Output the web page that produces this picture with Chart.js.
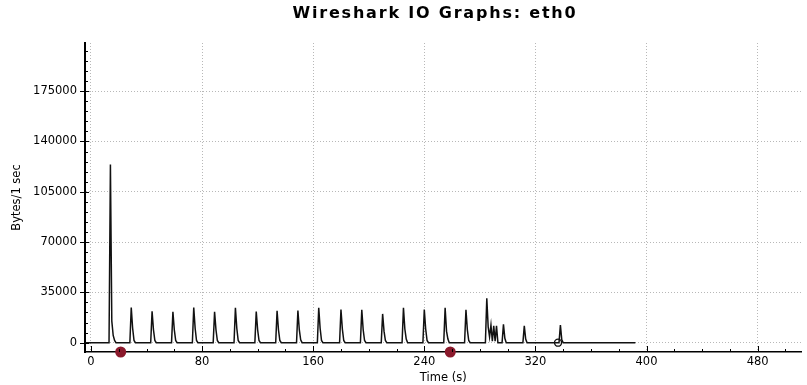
<!DOCTYPE html>
<html><head><meta charset="utf-8">
<script src="https://cdn.jsdelivr.net/npm/chart.js@4"></script>
<style>html,body{margin:0;padding:0;background:#fff}#wrap{width:807px;height:385px}</style>
</head><body><div id="wrap"><canvas id="c" width="807" height="385"></canvas></div>
<script>
const chartTitle = 'Wireshark IO Graphs: eth0';
const xAxisTitle = 'Time (s)';
const yAxisTitle = 'Bytes/1 sec';

// Time (s) and Bytes/1 sec
const timeSec = [-4, 13,14,15,16,17,18, 28,29,30,31,32, 43,44,45,46,47, 58,59,60,61,62, 73,74,75,76,77, 88,89,90,91,92,
  103,104,105,106,107, 118,119,120,121,122, 133,134,135,136,137, 148,149,150,151,152, 163,164,165,166,167,
  179,180,181,182,183, 194,195,196,197,198, 209,210,211,212,213, 224,225,226,227,228, 239,240,241,242,243,
  254,255,256,257,258, 269,270,271,272,273, 284,285,286,287,288,289,290,291,292,293, 296,297,298,299,
  311,312,313,314, 337,338,339,340, 392];
const bytesPerSec = [0, 0,124000,15000,5000,1500,0, 0,24400,10000,1500,0, 0,21900,9000,1500,0, 0,21400,9000,1500,0, 0,24400,10000,1500,0, 0,21400,9000,1500,0,
  0,24200,10000,1500,0, 0,21700,9000,1500,0, 0,22100,9000,1500,0, 0,22400,9000,2000,0, 0,24200,10000,1500,0,
  0,23100,9500,1500,0, 0,22800,9000,1500,0, 0,20000,8000,1500,0, 0,24200,9500,2500,0, 0,23100,9500,1500,0,
  0,24200,8000,2500,0, 0,22800,9000,1500,0, 0,30800,11000,4000,12200,1000,11700,1000,11700,0, 0,12700,3000,0,
  0,11700,2500,0, 0,12200,2000,0, 0];

const markerTimes = [21.4, 258.7];      // red markers on the time axis
const openMarkerTimes = [336.3];        // open circle marker
const openMarkerValues = [0];

const xTickValues = [0, 80, 160, 240, 320, 400, 480];
const yTickValues = [0, 35000, 70000, 105000, 140000, 175000];
const xRange = [-4.3, 511.6];
const yRange = [-6500, 208500];
const xMinorStep = 20;
const yMinorStep = 7000;

const FONT = 'DejaVu Sans';

const decor = {
  id: 'decor',
  afterDraw(chart) {
    const {ctx, chartArea: {left, bottom}, scales: {x, y}} = chart;
    ctx.save();
    ctx.strokeStyle = '#000';
    ctx.lineWidth = 1;
    const seg = (x1, y1, x2, y2) => { ctx.beginPath(); ctx.moveTo(x1, y1); ctx.lineTo(x2, y2); ctx.stroke(); };
    for (let v = 0; v <= y.max; v += yMinorStep) {
      const py = Math.round(y.getPixelForValue(v)) + 0.5;
      if (yTickValues.includes(v)) seg(left - 5, py, left + 4, py);
      else seg(left, py, left + 3, py);
    }
    for (let v = 0; v <= x.max; v += xMinorStep) {
      const px = Math.round(x.getPixelForValue(v)) + 0.5;
      if (xTickValues.includes(v)) seg(px, bottom - 6, px, bottom);
      else seg(px, bottom - 3, px, bottom);
    }
    ctx.fillStyle = '#000';
    ctx.font = 'bold 16px "' + FONT + '"';
    ctx.letterSpacing = '1.8px';
    ctx.textAlign = 'center';
    ctx.textBaseline = 'alphabetic';
    ctx.fillText(chartTitle, 435, 18);
    ctx.restore();
  }
};

const plainLabel = v => String(v);

new Chart(document.getElementById('c'), {
  type: 'line',
  data: {
    datasets: [
      {
        data: timeSec.map((t, i) => ({x: t, y: bytesPerSec[i]})),
        borderColor: '#111', borderWidth: 1.5, pointRadius: 0, tension: 0, fill: false
      },
      {
        data: openMarkerTimes.map((t, i) => ({x: t, y: openMarkerValues[i]})),
        showLine: false, pointRadius: 3.5, pointBorderWidth: 1.4,
        pointBorderColor: '#111', pointBackgroundColor: '#fff'
      },
      {
        data: markerTimes.map(t => ({x: t, y: yRange[0]})),
        showLine: false, pointRadius: 5.5, pointBorderWidth: 0,
        pointBackgroundColor: '#8b1a2c', pointBorderColor: '#8b1a2c', clip: false
      }
    ]
  },
  options: {
    responsive: false,
    animation: false,
    devicePixelRatio: 1,
    layout: {padding: {top: 43, left: 0, right: 0, bottom: 0}},
    plugins: {legend: {display: false}, tooltip: {enabled: false}, title: {display: false}},
    scales: {
      x: {
        type: 'linear', min: xRange[0], max: xRange[1],
        afterBuildTicks: s => { s.ticks = xTickValues.map(v => ({value: v})); },
        afterFit: s => { s.height = 33; },
        ticks: {font: {family: FONT, size: 11.5}, color: '#000', padding: 3, maxRotation: 0, autoSkip: false, callback: plainLabel},
        grid: {color: 'rgba(0,0,0,0.28)', lineWidth: 1, drawTicks: false},
        border: {display: true, color: '#000', width: 1.5, dash: [1, 2]},
        title: {display: true, text: xAxisTitle, font: {family: FONT, size: 11.5}, color: '#000', padding: {top: 1, bottom: 0}}
      },
      y: {
        type: 'linear', min: yRange[0], max: yRange[1],
        afterBuildTicks: s => { s.ticks = yTickValues.map(v => ({value: v})); },
        afterFit: s => { s.width = 85; },
        ticks: {font: {family: FONT, size: 11.5}, color: '#000', padding: 8, callback: plainLabel},
        grid: {color: 'rgba(0,0,0,0.28)', lineWidth: 1, drawTicks: false},
        border: {display: true, color: '#000', width: 2, dash: [1, 2]},
        title: {display: true, text: yAxisTitle, font: {family: FONT, size: 11.5}, color: '#000', padding: {top: 10, bottom: 0}}
      }
    }
  },
  plugins: [decor]
});
</script></body></html>
